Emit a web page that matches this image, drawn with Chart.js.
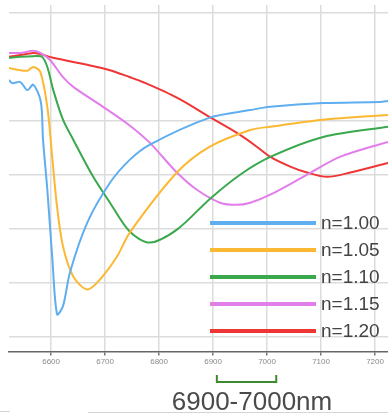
<!DOCTYPE html>
<html>
<head>
<meta charset="utf-8">
<script src="https://cdn.jsdelivr.net/npm/chart.js@4/dist/chart.umd.min.js"></script>
<style>
  html, body { margin: 0; padding: 0; background: #fff; }
  #wrap { position: relative; width: 388px; height: 415px; }
  #foot1 { position: absolute; left: 88px; top: 412px; width: 300px; height: 0; border-top: 1px solid #d4d4d4; }
  #foot2 { position: absolute; left: 0px; top: 411px; width: 10px; height: 0; border-top: 1px solid #d4d4d4; }
</style>
</head>
<body>
<div id="wrap">
  <canvas id="c" width="388" height="415"></canvas>
  <div id="foot1"></div><div id="foot2"></div>
</div>
<script>
// ---- data (wavelength in nm, relative value) ----
const seriesLabels = ["n=1.00", "n=1.05", "n=1.10", "n=1.15", "n=1.20"];
const seriesColors = ["#5eaef0", "#fbb833", "#3aa84c", "#e27eea", "#ef3636"];

const wl100 = [6522, 6528, 6543, 6556, 6567, 6581, 6585, 6593, 6602, 6611, 6622, 6635, 6667, 6709, 6746, 6783, 6894, 6969, 7006, 7104, 7209, 7224];
const val100 = [4.76, 4.70, 4.72, 4.57, 4.67, 4.35, 3.65, 2.72, 1.48, 0.41, 0.56, 1.19, 2.11, 2.85, 3.28, 3.56, 4.06, 4.20, 4.26, 4.33, 4.35, 4.37];

const wl105 = [6522, 6543, 6556, 6567, 6580, 6593, 6602, 6611, 6622, 6641, 6667, 6691, 6722, 6746, 6833, 6894, 6969, 7006, 7104, 7224];
const val105 = [4.98, 4.94, 4.93, 5.00, 4.91, 4.26, 3.33, 2.41, 1.67, 1.11, 0.87, 1.06, 1.48, 1.93, 3.04, 3.52, 3.83, 3.89, 4.02, 4.11];

const wl110 = [6522, 6543, 6567, 6583, 6593, 6604, 6622, 6641, 6678, 6709, 6746, 6783, 6833, 6894, 6950, 7006, 7104, 7224];
const val110 = [5.17, 5.19, 5.20, 5.19, 5.00, 4.57, 4.02, 3.65, 2.96, 2.48, 1.94, 1.74, 1.98, 2.55, 3.00, 3.33, 3.70, 3.89];

const wl115 = [6522, 6543, 6567, 6580, 6598, 6622, 6641, 6696, 6746, 6783, 6833, 6870, 6913, 6944, 6969, 7006, 7074, 7135, 7224];
const val115 = [5.26, 5.26, 5.30, 5.26, 5.13, 4.81, 4.63, 4.26, 3.91, 3.59, 3.04, 2.72, 2.48, 2.44, 2.48, 2.63, 3.00, 3.33, 3.61];

const wl120 = [6522, 6543, 6567, 6580, 6604, 6667, 6709, 6746, 6770, 6833, 6894, 6950, 6981, 7006, 7043, 7074, 7111, 7154, 7224];
const val120 = [5.19, 5.22, 5.26, 5.24, 5.17, 5.04, 4.94, 4.81, 4.72, 4.43, 4.07, 3.74, 3.52, 3.33, 3.15, 3.04, 2.96, 3.04, 3.22];

const xTicks = [6600, 6700, 6800, 6900, 7000, 7100, 7200];
const yGridValues = [0, 1, 2, 3, 4, 6];
const bandLabel = "6900-7000nm";
const bandRange = [6907, 7017];

const wls = [wl100, wl105, wl110, wl115, wl120];
const vals = [val100, val105, val110, val115, val120];

const datasets = seriesLabels.map((lab, i) => ({
  label: lab,
  data: wls[i].map((x, k) => ({ x: x, y: vals[i][k] })),
  borderColor: seriesColors[i],
  backgroundColor: seriesColors[i],
  borderWidth: 2,
  pointRadius: 0,
  fill: false,
  tension: 0.3
}));

const overlay = {
  id: 'overlay',
  afterDraw(chart) {
    const ctx = chart.ctx;
    ctx.save();
    ctx.font = '19px "Liberation Sans", Arial, sans-serif';
    ctx.textBaseline = 'middle';
    ctx.textAlign = 'left';
    chart.data.datasets.forEach((ds, i) => {
      const y = 223 + i * 27;
      ctx.strokeStyle = ds.borderColor;
      ctx.lineWidth = 4;
      ctx.beginPath();
      ctx.moveTo(210, y);
      ctx.lineTo(316, y);
      ctx.stroke();
      ctx.fillStyle = '#444';
      ctx.fillText(ds.label, 321, y + 1);
    });
    const xs = chart.scales.x;
    const x1 = xs.getPixelForValue(bandRange[0]);
    const x2 = xs.getPixelForValue(bandRange[1]);
    ctx.strokeStyle = '#3e8a2e';
    ctx.lineWidth = 2;
    ctx.beginPath();
    ctx.moveTo(x1, 375);
    ctx.lineTo(x1, 382);
    ctx.lineTo(x2, 382);
    ctx.lineTo(x2, 375);
    ctx.stroke();
    ctx.fillStyle = '#4a4a4a';
    ctx.font = '26px "Liberation Sans", Arial, sans-serif';
    ctx.textAlign = 'center';
    ctx.textBaseline = 'alphabetic';
    ctx.fillText(bandLabel, 252, 410);
    ctx.restore();
  }
};

new Chart(document.getElementById('c'), {
  type: 'line',
  data: { datasets: datasets },
  options: {
    responsive: false,
    animation: false,
    layout: { padding: { left: 9, right: 0, top: 5, bottom: 46 } },
    plugins: { legend: { display: false }, tooltip: { enabled: false } },
    scales: {
      x: {
        type: 'linear',
        min: 6522, max: 7224,
        afterBuildTicks: (s) => { s.ticks = xTicks.map(v => ({ value: v })); },
        grid: { color: '#dcdcdc', lineWidth: 1.5, tickLength: 4, tickColor: '#777' },
        border: { color: '#666', width: 1.5 },
        ticks: {
          color: '#8a8a8a',
          font: { size: 8, family: '"Liberation Sans", Arial, sans-serif' },
          padding: 2, maxRotation: 0,
          callback: (v) => String(v)
        }
      },
      y: {
        type: 'linear',
        min: -0.28, max: 6.15,
        afterBuildTicks: (s) => { s.ticks = yGridValues.map(v => ({ value: v })); },
        grid: { color: '#dcdcdc', lineWidth: 1.5, drawTicks: false },
        border: { display: false },
        ticks: { display: false }
      }
    }
  },
  plugins: [overlay]
});
</script>
</body>
</html>
